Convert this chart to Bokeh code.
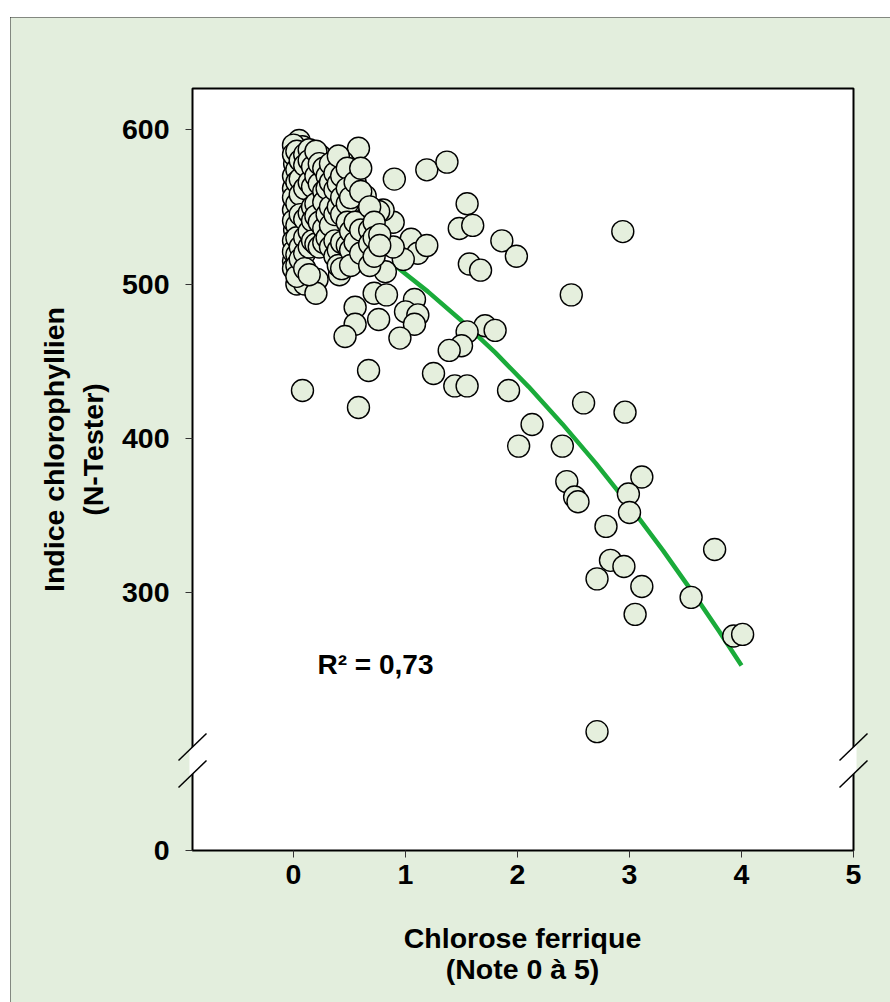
import math
from bokeh.plotting import figure
from bokeh.models import Range1d, FixedTicker, Label
from bokeh.embed import file_html
from bokeh.resources import INLINE

# ---- data ----
chlorose = [
    0.90, 1.19, 1.37, 1.55, 1.48, 1.60, 1.86, 1.99, 1.57, 1.67, 2.48, 2.94,
    1.71, 1.80, 1.55, 1.50, 1.39, 1.25, 1.44, 1.55, 1.92, 2.59, 2.96, 2.13,
    2.01, 2.40, 2.44, 3.11, 2.99, 2.51, 2.54, 3.00, 2.79, 3.76, 2.83, 2.95,
    2.71, 3.11, 3.55, 3.05, 3.93, 4.01, 2.71,
    1.05, 1.11, 1.19, 0.98, 0.89, 0.89, 0.80, 0.82, 1.08, 1.00, 1.11, 1.08,
    0.95, 0.76, 0.67, 0.08, 0.58, 0.55, 0.55, 0.46, 0.72, 0.83,
    0.05, 0.08, 0.58, 0.24, 0.44, 0.52, 0.13, 0.01, 0.00, 0.19, 0.35, 0.64,
    0.56, 0.76, 0.00, 0.09, 0.18, 0.25, 0.01, 0.19, 0.40, 0.65, 0.00, 0.25,
    0.43, 0.61, 0.00, 0.03, 0.10, 0.21, 0.20, 0.41, 0.46, 0.65,
    0.00, 0.00, 0.00, 0.00, 0.00, 0.00, 0.00,
    0.03, 0.03, 0.03, 0.03, 0.03, 0.03, 0.03, 0.03, 0.03,
    0.06, 0.06, 0.06, 0.06, 0.06, 0.06,
    0.10, 0.10, 0.10, 0.10, 0.10, 0.10, 0.10,
    0.14, 0.14, 0.14, 0.14, 0.14, 0.14, 0.14,
    0.17, 0.17, 0.17, 0.17, 0.17,
    0.20, 0.20, 0.20, 0.20, 0.20,
    0.23, 0.23, 0.23, 0.23,
    0.27, 0.27, 0.27, 0.27, 0.27,
    0.30, 0.30, 0.30, 0.30,
    0.33, 0.33, 0.33, 0.33, 0.33,
    0.37, 0.37, 0.37, 0.37, 0.37,
    0.40, 0.40, 0.40, 0.40, 0.40,
    0.43, 0.43, 0.43, 0.43, 0.43,
    0.48, 0.48, 0.48, 0.48, 0.48,
    0.51, 0.51, 0.51, 0.51,
    0.55, 0.55, 0.55,
    0.60, 0.60, 0.60, 0.60,
    0.68, 0.68, 0.68, 0.68,
    0.72, 0.72, 0.72,
    0.77, 0.77,
]
indice = [
    568, 574, 579, 552, 536, 538, 528, 518, 513, 509, 493, 534,
    473, 470, 469, 460, 457, 442, 434, 434, 431, 423, 417, 409,
    395, 395, 372, 375, 364, 362, 359, 352, 343, 328, 321, 317,
    309, 304, 297, 286, 272, 273, 210,
    529, 520, 525, 516, 524, 540, 548, 508, 490, 482, 480, 474,
    465, 477, 444, 431, 420, 485, 474, 466, 494, 493,
    593, 589, 588, 583, 579, 571, 573, 578, 562, 558, 557, 557,
    548, 547, 548, 551, 555, 548, 535, 538, 540, 543, 528, 532,
    533, 528, 515, 500, 500, 503, 494, 506, 518, 520,
    590, 584, 570, 556, 541, 521, 510,
    586, 574, 566, 552, 538, 530, 519, 512, 505,
    580, 568, 558, 545, 524, 516,
    584, 577, 562, 542, 530, 520, 510,
    587, 580, 566, 546, 534, 524, 506,
    576, 563, 550, 541, 528,
    586, 570, 552, 544, 526,
    578, 565, 540, 524,
    575, 560, 553, 536, 527,
    570, 562, 545, 530,
    578, 566, 550, 538, 524,
    572, 561, 545, 528, 518,
    583, 565, 550, 522, 512,
    570, 556, 545, 527, 510,
    575, 562, 552, 540, 525,
    556, 534, 522, 512,
    566, 540, 527,
    575, 560, 535, 520,
    550, 535, 526, 512,
    540, 530, 518,
    532, 525,
]

# trend curve
trend_x = [0.90, 1.20, 1.50, 1.80, 2.10, 2.40, 2.70, 3.00, 3.30, 3.60, 3.80, 4.00]
trend_y = [512.3, 495.1, 476.2, 455.7, 433.4, 409.4, 383.8, 356.4, 327.3, 296.5, 275.0, 252.9]

x_ticks = [0, 1, 2, 3, 4, 5]
y_ticks = [133, 300, 400, 500, 600]
y_tick_labels = ["0", "300", "400", "500", "600"]
r2_text = "R\u00b2 = 0,73"
x_title_lines = ["Chlorose ferrique", "(Note 0 \u00e0 5)"]
y_title_lines = ["Indice chlorophyllien", "(N-Tester)"]

# plot box (data units) and axis-break decoration
X0, X1 = -0.902, 5.0
Y0, Y1 = 133, 626.7
break_lo = [191.3, 173.8]       # slash start heights
break_hi = [208.8, 191.3]       # slash end heights
gap_ys = [198.2, 201.9, 184.4, 180.7]   # white gap on the axis line
slash_half = 0.125              # half slash width (x units)
gap_half = 0.027

BG = "#e3eedd"
FILL = "#e5efdd"
GREEN = "#1aab3a"
FONT = "Liberation Sans"

# page geometry: figure placed at (10, 17); plot box at x 192..853, y 88..850
W, H = 880, 985
FIG_L, FIG_T = 10, 17
BOX_L, BOX_R, BOX_T, BOX_B = 192, 853, 88, 850
PX_X = (BOX_R - BOX_L) / (X1 - X0)
PX_Y = (BOX_B - BOX_T) / (Y1 - Y0)
x_start = X0 - (BOX_L - FIG_L) / PX_X
x_end = X1 + (FIG_L + W - BOX_R) / PX_X
y_start = Y0 - (FIG_T + H - BOX_B) / PX_Y
y_end = Y1 + (BOX_T - FIG_T) / PX_Y


def dx(px):
    return X0 + (px - BOX_L) / PX_X


def dy(py):
    return Y0 + (BOX_B - py) / PX_Y


p = figure(width=W, height=H, title=None,
           x_range=Range1d(x_start, x_end), y_range=Range1d(y_start, y_end),
           output_backend="svg", toolbar_location=None,
           min_border_left=0, min_border_top=0, min_border_right=0, min_border_bottom=0)
p.margin = (FIG_T, 0, 0, FIG_L)
p.styles = {"outline": "2px solid #222222", "outline-offset": "-2px"}
p.background_fill_color = BG
p.border_fill_color = BG
p.outline_line_color = None
p.grid.visible = False

# plot box
p.quad(left=[X0], right=[X1], bottom=[Y0], top=[Y1],
       fill_color="white", line_color="black", line_width=2)

p.line(trend_x, trend_y, line_color=GREEN, line_width=4.5)
p.scatter(chlorose, indice, size=22, fill_color=FILL, line_color="black", line_width=1.4)

# axis breaks
gx, gy = [], []
sx0, sy0, sx1, sy1 = [], [], [], []
for ax_x in (X0, X1):
    gx.append([ax_x - gap_half, ax_x + gap_half, ax_x + gap_half, ax_x - gap_half])
    gy.append(gap_ys)
    for lo, hi in zip(break_lo, break_hi):
        sx0.append(ax_x - slash_half)
        sy0.append(lo)
        sx1.append(ax_x + slash_half)
        sy1.append(hi)
p.patches(gx, gy, fill_color="white", line_color=None)
p.segment(sx0, sy0, sx1, sy1, line_color="black", line_width=1.5)

p.xaxis.ticker = FixedTicker(ticks=x_ticks)
p.yaxis.ticker = FixedTicker(ticks=y_ticks)
p.yaxis.major_label_overrides = dict(zip(y_ticks, y_tick_labels))
p.xaxis.fixed_location = Y0
p.yaxis.fixed_location = X0

for ax in (p.xaxis, p.yaxis):
    ax.axis_line_color = None
    ax.major_tick_out = 7
    ax.major_tick_in = 0
    ax.major_tick_line_color = "#333333"
    ax.major_tick_line_width = 1
    ax.minor_tick_out = 0
    ax.minor_tick_in = 0
    ax.major_label_text_font = FONT
    ax.major_label_text_font_style = "bold"
    ax.major_label_text_font_size = "28.5px"
    ax.major_label_text_color = "black"
p.xaxis.major_label_standoff = 7
p.yaxis.major_label_standoff = 16

title_style = dict(text_font=FONT, text_font_style="bold", text_font_size="28.5px",
                   text_color="black", text_align="center", text_baseline="middle")
# x-axis title (two lines, centred under the plot box)
for line, py in zip(x_title_lines, [937, 968]):
    p.add_layout(Label(x=dx(522), y=dy(py), text=line, **title_style))
# y-axis title (two rotated lines)
for line, px in zip(y_title_lines, [53, 92]):
    p.add_layout(Label(x=dx(px), y=dy(449), text=line, angle=math.pi / 2, **title_style))

p.add_layout(Label(x=dx(317), y=dy(679), text=r2_text, text_font=FONT,
                   text_font_style="bold", text_font_size="28px", text_color="black"))

open("out.html", "w").write(file_html(p, INLINE))
